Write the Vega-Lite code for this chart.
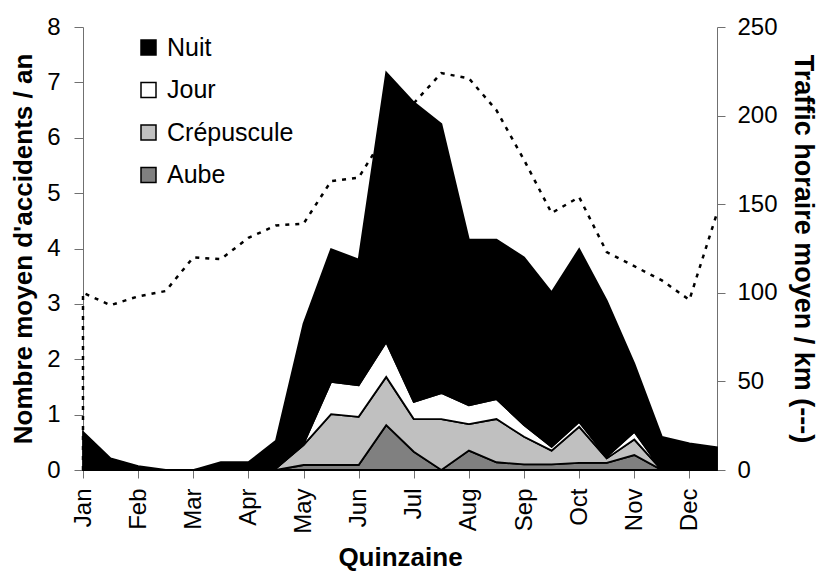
{
  "$schema": "https://vega.github.io/schema/vega-lite/v6.json",
  "width": 634,
  "height": 443,
  "autosize": "none",
  "padding": {"left": 83, "top": 27, "right": 101, "bottom": 105},
  "background": "white",
  "config": {
    "view": {"stroke": null},
    "font": "Liberation Sans",
    "axis": {"grid": false, "domainColor": "#707070", "tickColor": "#707070", "labelColor": "black", "titleColor": "black", "labelFont": "Liberation Sans", "titleFont": "Liberation Sans", "labelFontSize": 24, "titleFontSize": 26, "titleFontWeight": "bold", "labelFontWeight": "normal", "tickSize": 8}
  },
  "datasets": {
    "acc": [
      {"q": 0, "periode": "Aube", "ord": 1, "v": 0}, {"q": 0, "periode": "Crépuscule", "ord": 2, "v": 0}, {"q": 0, "periode": "Jour", "ord": 3, "v": 0}, {"q": 0, "periode": "Nuit", "ord": 4, "v": 0.69},
      {"q": 1, "periode": "Aube", "ord": 1, "v": 0}, {"q": 1, "periode": "Crépuscule", "ord": 2, "v": 0}, {"q": 1, "periode": "Jour", "ord": 3, "v": 0}, {"q": 1, "periode": "Nuit", "ord": 4, "v": 0.21},
      {"q": 2, "periode": "Aube", "ord": 1, "v": 0}, {"q": 2, "periode": "Crépuscule", "ord": 2, "v": 0}, {"q": 2, "periode": "Jour", "ord": 3, "v": 0}, {"q": 2, "periode": "Nuit", "ord": 4, "v": 0.07},
      {"q": 3, "periode": "Aube", "ord": 1, "v": 0}, {"q": 3, "periode": "Crépuscule", "ord": 2, "v": 0}, {"q": 3, "periode": "Jour", "ord": 3, "v": 0}, {"q": 3, "periode": "Nuit", "ord": 4, "v": 0},
      {"q": 4, "periode": "Aube", "ord": 1, "v": 0}, {"q": 4, "periode": "Crépuscule", "ord": 2, "v": 0}, {"q": 4, "periode": "Jour", "ord": 3, "v": 0}, {"q": 4, "periode": "Nuit", "ord": 4, "v": 0},
      {"q": 5, "periode": "Aube", "ord": 1, "v": 0}, {"q": 5, "periode": "Crépuscule", "ord": 2, "v": 0.02}, {"q": 5, "periode": "Jour", "ord": 3, "v": 0}, {"q": 5, "periode": "Nuit", "ord": 4, "v": 0.12},
      {"q": 6, "periode": "Aube", "ord": 1, "v": 0}, {"q": 6, "periode": "Crépuscule", "ord": 2, "v": 0}, {"q": 6, "periode": "Jour", "ord": 3, "v": 0}, {"q": 6, "periode": "Nuit", "ord": 4, "v": 0.14},
      {"q": 7, "periode": "Aube", "ord": 1, "v": 0}, {"q": 7, "periode": "Crépuscule", "ord": 2, "v": 0.03}, {"q": 7, "periode": "Jour", "ord": 3, "v": 0}, {"q": 7, "periode": "Nuit", "ord": 4, "v": 0.5},
      {"q": 8, "periode": "Aube", "ord": 1, "v": 0.09}, {"q": 8, "periode": "Crépuscule", "ord": 2, "v": 0.36}, {"q": 8, "periode": "Jour", "ord": 3, "v": 0.02}, {"q": 8, "periode": "Nuit", "ord": 4, "v": 2.17},
      {"q": 9, "periode": "Aube", "ord": 1, "v": 0.09}, {"q": 9, "periode": "Crépuscule", "ord": 2, "v": 0.92}, {"q": 9, "periode": "Jour", "ord": 3, "v": 0.58}, {"q": 9, "periode": "Nuit", "ord": 4, "v": 2.4},
      {"q": 10, "periode": "Aube", "ord": 1, "v": 0.09}, {"q": 10, "periode": "Crépuscule", "ord": 2, "v": 0.87}, {"q": 10, "periode": "Jour", "ord": 3, "v": 0.57}, {"q": 10, "periode": "Nuit", "ord": 4, "v": 2.27},
      {"q": 11, "periode": "Aube", "ord": 1, "v": 0.81}, {"q": 11, "periode": "Crépuscule", "ord": 2, "v": 0.87}, {"q": 11, "periode": "Jour", "ord": 3, "v": 0.63}, {"q": 11, "periode": "Nuit", "ord": 4, "v": 4.87},
      {"q": 12, "periode": "Aube", "ord": 1, "v": 0.33}, {"q": 12, "periode": "Crépuscule", "ord": 2, "v": 0.59}, {"q": 12, "periode": "Jour", "ord": 3, "v": 0.31}, {"q": 12, "periode": "Nuit", "ord": 4, "v": 5.41},
      {"q": 13, "periode": "Aube", "ord": 1, "v": 0}, {"q": 13, "periode": "Crépuscule", "ord": 2, "v": 0.92}, {"q": 13, "periode": "Jour", "ord": 3, "v": 0.47}, {"q": 13, "periode": "Nuit", "ord": 4, "v": 4.86},
      {"q": 14, "periode": "Aube", "ord": 1, "v": 0.35}, {"q": 14, "periode": "Crépuscule", "ord": 2, "v": 0.48}, {"q": 14, "periode": "Jour", "ord": 3, "v": 0.34}, {"q": 14, "periode": "Nuit", "ord": 4, "v": 2.99},
      {"q": 15, "periode": "Aube", "ord": 1, "v": 0.14}, {"q": 15, "periode": "Crépuscule", "ord": 2, "v": 0.78}, {"q": 15, "periode": "Jour", "ord": 3, "v": 0.36}, {"q": 15, "periode": "Nuit", "ord": 4, "v": 2.88},
      {"q": 16, "periode": "Aube", "ord": 1, "v": 0.1}, {"q": 16, "periode": "Crépuscule", "ord": 2, "v": 0.5}, {"q": 16, "periode": "Jour", "ord": 3, "v": 0.21}, {"q": 16, "periode": "Nuit", "ord": 4, "v": 3.03},
      {"q": 17, "periode": "Aube", "ord": 1, "v": 0.1}, {"q": 17, "periode": "Crépuscule", "ord": 2, "v": 0.25}, {"q": 17, "periode": "Jour", "ord": 3, "v": 0.07}, {"q": 17, "periode": "Nuit", "ord": 4, "v": 2.79},
      {"q": 18, "periode": "Aube", "ord": 1, "v": 0.13}, {"q": 18, "periode": "Crépuscule", "ord": 2, "v": 0.65}, {"q": 18, "periode": "Jour", "ord": 3, "v": 0.09}, {"q": 18, "periode": "Nuit", "ord": 4, "v": 3.12},
      {"q": 19, "periode": "Aube", "ord": 1, "v": 0.13}, {"q": 19, "periode": "Crépuscule", "ord": 2, "v": 0.08}, {"q": 19, "periode": "Jour", "ord": 3, "v": 0.03}, {"q": 19, "periode": "Nuit", "ord": 4, "v": 2.82},
      {"q": 20, "periode": "Aube", "ord": 1, "v": 0.27}, {"q": 20, "periode": "Crépuscule", "ord": 2, "v": 0.28}, {"q": 20, "periode": "Jour", "ord": 3, "v": 0.14}, {"q": 20, "periode": "Nuit", "ord": 4, "v": 1.23},
      {"q": 21, "periode": "Aube", "ord": 1, "v": 0}, {"q": 21, "periode": "Crépuscule", "ord": 2, "v": 0}, {"q": 21, "periode": "Jour", "ord": 3, "v": 0}, {"q": 21, "periode": "Nuit", "ord": 4, "v": 0.6},
      {"q": 22, "periode": "Aube", "ord": 1, "v": 0}, {"q": 22, "periode": "Crépuscule", "ord": 2, "v": 0}, {"q": 22, "periode": "Jour", "ord": 3, "v": 0}, {"q": 22, "periode": "Nuit", "ord": 4, "v": 0.48},
      {"q": 23, "periode": "Aube", "ord": 1, "v": 0}, {"q": 23, "periode": "Crépuscule", "ord": 2, "v": 0}, {"q": 23, "periode": "Jour", "ord": 3, "v": 0}, {"q": 23, "periode": "Nuit", "ord": 4, "v": 0.41}
    ],
    "traffic": [
      {"q": 0, "o": 0, "t": 0}, {"q": 0, "o": 1, "t": 100}, {"q": 1, "o": 2, "t": 93}, {"q": 2, "o": 3, "t": 98}, {"q": 3, "o": 4, "t": 101},
      {"q": 4, "o": 5, "t": 120}, {"q": 5, "o": 6, "t": 119}, {"q": 6, "o": 7, "t": 131}, {"q": 7, "o": 8, "t": 138}, {"q": 8, "o": 9, "t": 139},
      {"q": 9, "o": 10, "t": 163}, {"q": 10, "o": 11, "t": 165}, {"q": 11, "o": 12, "t": 190}, {"q": 12, "o": 13, "t": 207}, {"q": 13, "o": 14, "t": 224},
      {"q": 14, "o": 15, "t": 221}, {"q": 15, "o": 16, "t": 203}, {"q": 16, "o": 17, "t": 175}, {"q": 17, "o": 18, "t": 145}, {"q": 18, "o": 19, "t": 154},
      {"q": 19, "o": 20, "t": 123}, {"q": 20, "o": 21, "t": 115}, {"q": 21, "o": 22, "t": 107}, {"q": 22, "o": 23, "t": 96}, {"q": 23, "o": 24, "t": 145}
    ]
  },
  "layer": [
    {
      "data": {"name": "acc"},
      "mark": {"type": "area", "stroke": "black", "strokeWidth": 1.8, "strokeJoin": "miter"},
      "encoding": {
        "x": {"field": "q", "type": "quantitative", "scale": {"domain": [0, 23], "nice": false, "zero": false},
          "axis": {"values": [0,1,2,3,4,5,6,7,8,9,10,11,12,13,14,15,16,17,18,19,20,21,22,23], "labelExpr": "datum.value % 2 == 0 ? ['Jan','Feb','Mar','Apr','May','Jun','Jul','Aug','Sep','Oct','Nov','Dec'][datum.value / 2] : ''", "labelAngle": 270, "labelPadding": 10, "title": "Quinzaine", "titlePadding": 11, "labelOverlap": false, "labelBound": false, "labelFlush": false}},
        "y": {"field": "v", "type": "quantitative", "aggregate": "sum", "stack": "zero", "scale": {"domain": [0, 8], "nice": false},
          "axis": {"values": [0,1,2,3,4,5,6,7,8], "title": "Nombre moyen d'accidents / an", "labelPadding": 14, "titlePadding": 10, "tickSize": 9}},
        "color": {"field": "periode", "type": "nominal", "scale": {"domain": ["Nuit", "Jour", "Crépuscule", "Aube"], "range": ["#000000", "#ffffff", "#c0c0c0", "#808080"]},
          "legend": {"title": null, "orient": "none", "legendX": 53, "legendY": 8, "padding": 0, "symbolType": "square", "symbolSize": 225, "symbolStrokeColor": "black", "symbolStrokeWidth": 1.5, "labelFontSize": 25, "labelFont": "Liberation Sans", "labelColor": "black", "labelOffset": 6, "rowPadding": 16.5}},
        "order": {"field": "ord", "type": "quantitative"}
      }
    },
    {
      "data": {"name": "traffic"},
      "mark": {"type": "line", "color": "black", "strokeWidth": 2.5, "strokeDash": [4, 6]},
      "encoding": {
        "x": {"field": "q", "type": "quantitative"},
        "y": {"field": "t", "type": "quantitative", "scale": {"domain": [0, 250], "nice": false},
          "axis": {"orient": "right", "values": [0, 50, 100, 150, 200, 250], "title": "Traffic horaire moyen / km (---)", "titleFontSize": 27, "labelPadding": 12, "titlePadding": 11}},
        "order": {"field": "o", "type": "quantitative"}
      }
    }
  ],
  "resolve": {"scale": {"y": "independent"}}
}
